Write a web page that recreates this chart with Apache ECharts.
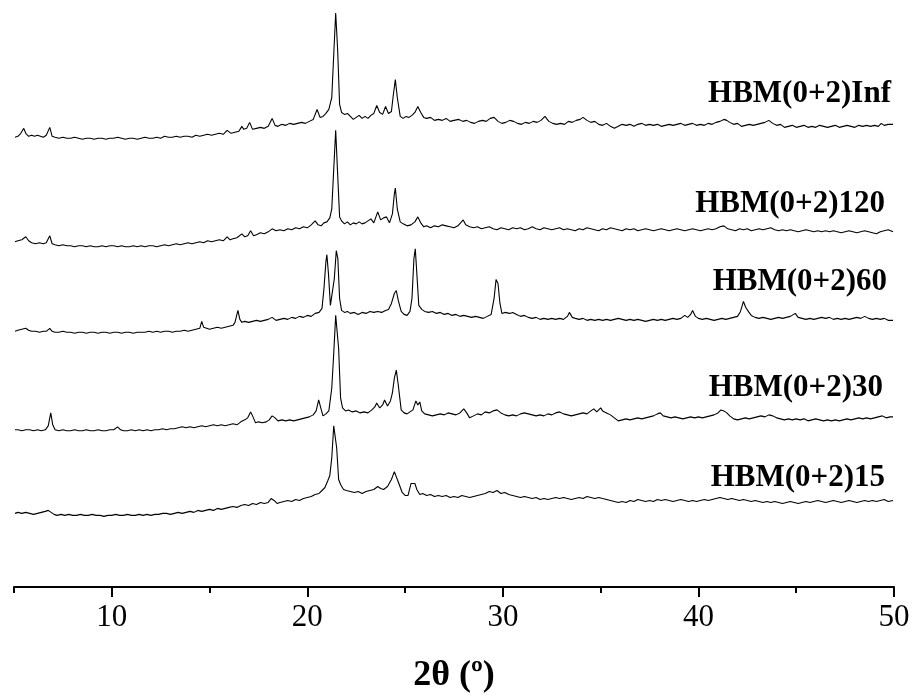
<!DOCTYPE html>
<html>
<head>
<meta charset="utf-8">
<script src="https://cdn.jsdelivr.net/npm/echarts@6/dist/echarts.min.js"></script>
<style>
html,body{margin:0;padding:0;background:#fff;}
#chart{width:914px;height:699px;}
</style>
</head>
<body>
<div id="chart"></div>
<script>
// ---- data (2θ in degrees, relative intensity above each pattern's baseline) ----
const sampleNames = ['HBM(0+2)Inf', 'HBM(0+2)120', 'HBM(0+2)60', 'HBM(0+2)30', 'HBM(0+2)15'];
const stackOffsets = [450, 340, 255, 155, 70];
const majorTicks = [10, 20, 30, 40, 50];
const minorTicks = [5, 15, 25, 35, 45];
const axisTitle = '2θ (º)';

const traceInf = [[5.05,2],[5.2,3],[5.35,6],[5.5,11],[5.6,6],[5.75,3],[5.9,4],[6.05,3],[6.2,4],[6.35,3],[6.5,2],[6.65,4],[6.83,12],[6.95,3],[7.1,2],[7.3,1],[7.5,2],[7.7,1],[7.9,1],[8.1,2],[8.3,1],[8.5,0],[8.7,1],[8.9,1],[9.1,0],[9.3,1],[9.5,1],[9.7,0],[9.9,1],[10.1,1],[10.3,2],[10.5,1],[10.7,0],[10.9,1],[11.1,1],[11.3,0],[11.5,1],[11.7,2],[11.9,1],[12.1,1],[12.3,2],[12.5,1],[12.7,3],[12.9,2],[13.1,2],[13.3,3],[13.5,2],[13.7,3],[13.9,3],[14.1,2],[14.3,4],[14.5,3],[14.7,4],[14.9,5],[15.1,4],[15.3,5],[15.5,6],[15.7,5],[15.9,9],[16.1,6],[16.3,7],[16.5,8],[16.65,13],[16.75,10],[16.9,11],[17.05,17],[17.2,10],[17.4,11],[17.6,12],[17.8,11],[18.0,13],[18.2,21],[18.35,14],[18.5,13],[18.7,15],[18.9,14],[19.1,16],[19.3,15],[19.5,16],[19.7,17],[19.9,16],[20.1,18],[20.3,20],[20.5,30],[20.65,22],[20.8,23],[20.95,26],[21.1,30],[21.25,42],[21.35,85],[21.45,127],[21.55,90],[21.65,35],[21.75,27],[21.9,25],[22.05,26],[22.2,23],[22.35,20],[22.5,22],[22.65,24],[22.8,21],[22.95,23],[23.1,21],[23.25,24],[23.4,26],[23.55,34],[23.7,27],[23.85,25],[24.0,33],[24.15,26],[24.3,28],[24.4,45],[24.5,60],[24.6,42],[24.75,23],[24.9,21],[25.05,23],[25.2,22],[25.35,24],[25.5,27],[25.65,33],[25.8,27],[25.95,22],[26.1,21],[26.3,22],[26.5,19],[26.7,20],[26.9,19],[27.1,21],[27.3,18],[27.5,19],[27.75,20],[27.95,18],[28.15,19],[28.35,17],[28.55,16],[28.75,18],[28.95,19],[29.15,18],[29.35,21],[29.55,22],[29.75,18],[29.95,16],[30.15,17],[30.35,19],[30.55,18],[30.75,16],[30.95,15],[31.15,17],[31.35,16],[31.55,18],[31.75,17],[31.95,19],[32.15,23],[32.35,18],[32.55,16],[32.75,15],[32.95,16],[33.15,15],[33.35,18],[33.55,17],[33.75,19],[33.95,20],[34.1,22],[34.3,19],[34.5,17],[34.7,18],[34.9,15],[35.1,14],[35.3,16],[35.5,13],[35.7,11],[35.9,13],[36.1,15],[36.3,14],[36.5,15],[36.7,13],[36.9,15],[37.1,16],[37.3,14],[37.5,15],[37.7,14],[37.9,15],[38.1,13],[38.3,14],[38.5,15],[38.7,14],[38.9,15],[39.1,16],[39.3,14],[39.5,15],[39.7,16],[39.9,14],[40.1,15],[40.3,14],[40.5,16],[40.7,15],[40.9,17],[41.1,18],[41.3,20],[41.45,19],[41.6,17],[41.8,15],[42.0,16],[42.2,13],[42.4,14],[42.6,15],[42.8,14],[43.0,15],[43.2,16],[43.4,17],[43.6,19],[43.8,16],[44.0,14],[44.2,15],[44.4,12],[44.6,13],[44.8,14],[45.0,12],[45.2,13],[45.4,14],[45.6,12],[45.8,13],[46.0,12],[46.2,14],[46.4,13],[46.6,12],[46.8,13],[47.0,14],[47.2,12],[47.4,13],[47.6,14],[47.8,13],[48.0,12],[48.2,14],[48.4,13],[48.6,14],[48.8,13],[49.0,14],[49.2,13],[49.35,16],[49.5,14],[49.7,15],[49.95,15]];

const trace120 = [[5.05,7],[5.2,8],[5.4,9],[5.6,12],[5.75,8],[5.9,6],[6.1,5],[6.3,6],[6.5,5],[6.65,6],[6.83,13],[6.95,5],[7.1,4],[7.3,3],[7.5,4],[7.7,3],[7.9,3],[8.1,2],[8.3,3],[8.5,3],[8.7,2],[8.9,3],[9.1,2],[9.3,2],[9.5,3],[9.7,2],[9.9,3],[10.1,3],[10.3,2],[10.5,3],[10.7,2],[10.9,2],[11.1,3],[11.3,2],[11.5,3],[11.7,2],[11.9,3],[12.1,3],[12.3,2],[12.5,3],[12.7,4],[12.9,3],[13.1,4],[13.3,5],[13.5,4],[13.7,5],[13.9,6],[14.1,5],[14.3,6],[14.5,7],[14.7,6],[14.9,8],[15.1,7],[15.3,8],[15.5,9],[15.7,8],[15.9,12],[16.05,9],[16.2,10],[16.4,11],[16.65,15],[16.8,12],[16.95,13],[17.1,18],[17.25,13],[17.4,14],[17.6,16],[17.8,15],[18.0,17],[18.2,20],[18.4,18],[18.6,19],[18.8,18],[19.0,20],[19.2,19],[19.4,21],[19.6,20],[19.8,22],[20.0,21],[20.2,24],[20.4,28],[20.55,24],[20.7,23],[20.85,26],[21.0,27],[21.15,31],[21.25,40],[21.35,80],[21.45,119],[21.55,75],[21.65,32],[21.75,28],[21.9,25],[22.05,27],[22.2,24],[22.35,26],[22.5,25],[22.65,27],[22.8,25],[22.95,26],[23.1,28],[23.25,30],[23.4,26],[23.6,37],[23.75,29],[23.9,31],[24.05,32],[24.2,26],[24.35,35],[24.45,55],[24.5,61],[24.6,40],[24.75,27],[24.9,25],[25.1,23],[25.3,24],[25.5,27],[25.65,32],[25.8,26],[25.95,22],[26.1,23],[26.3,21],[26.5,23],[26.7,22],[26.9,24],[27.1,23],[27.3,22],[27.5,21],[27.7,23],[27.97,29],[28.1,24],[28.3,22],[28.5,21],[28.7,22],[28.9,20],[29.1,21],[29.3,22],[29.5,20],[29.7,19],[29.9,21],[30.1,20],[30.3,19],[30.5,21],[30.7,20],[30.9,21],[31.1,19],[31.3,20],[31.5,22],[31.7,20],[31.9,19],[32.1,21],[32.3,20],[32.5,19],[32.7,20],[32.9,21],[33.1,19],[33.3,20],[33.5,19],[33.7,18],[33.9,20],[34.1,19],[34.3,21],[34.5,20],[34.7,19],[34.9,18],[35.1,20],[35.3,19],[35.5,21],[35.7,20],[35.9,19],[36.1,18],[36.3,20],[36.5,19],[36.7,20],[36.9,18],[37.1,19],[37.3,20],[37.5,19],[37.7,18],[37.9,19],[38.1,20],[38.3,19],[38.5,18],[38.7,19],[38.9,20],[39.1,19],[39.3,18],[39.5,19],[39.7,20],[39.9,19],[40.1,18],[40.3,19],[40.5,20],[40.7,19],[40.9,20],[41.1,22],[41.3,23],[41.5,20],[41.7,19],[41.9,18],[42.1,20],[42.3,19],[42.5,20],[42.7,18],[42.9,19],[43.1,20],[43.3,19],[43.5,20],[43.7,21],[43.9,19],[44.1,18],[44.3,19],[44.5,18],[44.7,19],[44.9,18],[45.1,17],[45.3,18],[45.5,19],[45.7,18],[45.9,17],[46.1,18],[46.3,17],[46.5,18],[46.7,17],[46.9,18],[47.1,17],[47.3,16],[47.5,17],[47.7,18],[47.9,17],[48.1,16],[48.3,17],[48.5,18],[48.7,17],[48.9,16],[49.1,15],[49.3,17],[49.5,18],[49.7,19],[49.95,17]];

const trace60 = [[5.05,2],[5.2,3],[5.4,4],[5.6,5],[5.75,3],[5.9,2],[6.1,2],[6.3,1],[6.5,2],[6.65,2],[6.83,5],[6.95,2],[7.1,1],[7.3,1],[7.5,2],[7.7,1],[7.9,1],[8.1,0],[8.3,1],[8.5,1],[8.7,0],[8.9,1],[9.1,1],[9.3,0],[9.5,1],[9.7,1],[9.9,0],[10.1,1],[10.3,1],[10.5,0],[10.7,1],[10.9,1],[11.1,0],[11.3,1],[11.5,1],[11.7,1],[11.9,2],[12.1,1],[12.3,2],[12.5,1],[12.7,2],[12.9,2],[13.1,1],[13.3,2],[13.5,2],[13.7,3],[13.9,2],[14.1,3],[14.3,4],[14.5,5],[14.6,12],[14.7,6],[14.85,5],[15.0,4],[15.2,5],[15.4,6],[15.6,5],[15.8,6],[16.0,7],[16.2,8],[16.3,11],[16.45,23],[16.55,14],[16.65,11],[16.8,12],[17.0,11],[17.2,12],[17.4,13],[17.6,12],[17.8,13],[18.0,14],[18.2,16],[18.4,13],[18.6,14],[18.8,15],[19.0,14],[19.2,16],[19.4,15],[19.6,17],[19.8,16],[20.0,18],[20.2,17],[20.4,20],[20.6,21],[20.75,25],[20.85,45],[20.95,72],[21.0,79],[21.08,60],[21.18,28],[21.28,30],[21.38,55],[21.48,83],[21.56,75],[21.65,35],[21.75,23],[21.9,21],[22.05,22],[22.2,20],[22.4,21],[22.6,19],[22.8,21],[23.0,20],[23.2,22],[23.4,21],[23.6,22],[23.8,21],[24.0,23],[24.15,24],[24.3,30],[24.45,40],[24.55,43],[24.65,33],[24.8,22],[24.95,19],[25.1,18],[25.25,22],[25.35,35],[25.45,75],[25.52,85],[25.6,60],[25.7,28],[25.85,24],[26.0,22],[26.2,21],[26.4,22],[26.6,20],[26.8,21],[27.0,19],[27.2,20],[27.4,18],[27.6,19],[27.8,17],[28.0,18],[28.2,17],[28.4,16],[28.6,17],[28.8,16],[29.0,15],[29.2,17],[29.4,19],[29.55,35],[29.65,54],[29.75,50],[29.85,30],[29.95,20],[30.1,21],[30.2,23],[30.35,20],[30.5,21],[30.7,19],[30.9,17],[31.1,18],[31.3,16],[31.5,15],[31.7,16],[31.9,14],[32.1,15],[32.3,14],[32.5,15],[32.7,14],[32.9,15],[33.1,14],[33.3,17],[33.4,21],[33.55,16],[33.7,15],[33.9,14],[34.1,15],[34.3,13],[34.5,14],[34.7,13],[34.9,14],[35.1,13],[35.3,14],[35.5,13],[35.7,14],[35.9,15],[36.1,14],[36.3,13],[36.5,14],[36.7,13],[36.9,14],[37.1,13],[37.3,12],[37.5,13],[37.7,14],[37.9,13],[38.1,14],[38.3,13],[38.5,14],[38.7,15],[38.9,14],[39.1,15],[39.3,18],[39.45,16],[39.6,19],[39.7,23],[39.85,17],[40.0,15],[40.2,14],[40.4,15],[40.6,14],[40.8,13],[41.0,14],[41.2,15],[41.4,14],[41.6,15],[41.8,16],[42.0,17],[42.15,22],[42.3,32],[42.42,26],[42.55,22],[42.7,18],[42.9,16],[43.1,15],[43.3,16],[43.5,15],[43.7,14],[43.9,15],[44.1,16],[44.3,15],[44.5,16],[44.7,17],[44.95,20],[45.1,16],[45.3,15],[45.5,14],[45.7,15],[45.9,14],[46.1,15],[46.3,16],[46.5,15],[46.7,16],[46.9,14],[47.1,15],[47.3,14],[47.5,15],[47.7,14],[47.9,15],[48.1,16],[48.3,15],[48.5,17],[48.7,15],[48.9,14],[49.1,15],[49.3,14],[49.5,15],[49.7,13],[49.95,13]];

const trace30 = [[5.05,3],[5.2,3],[5.4,2],[5.6,3],[5.8,3],[6.0,2],[6.2,3],[6.4,2],[6.6,3],[6.75,7],[6.88,20],[6.98,8],[7.1,3],[7.3,2],[7.5,3],[7.7,2],[7.9,2],[8.1,3],[8.3,2],[8.5,2],[8.7,3],[8.9,2],[9.1,2],[9.3,3],[9.5,2],[9.7,2],[9.9,3],[10.1,3],[10.3,6],[10.45,3],[10.6,2],[10.8,2],[11.0,3],[11.2,2],[11.4,3],[11.6,2],[11.8,3],[12.0,2],[12.2,3],[12.4,3],[12.6,4],[12.8,3],[13.0,4],[13.2,4],[13.4,5],[13.6,6],[13.8,5],[14.0,6],[14.2,5],[14.4,6],[14.6,7],[14.8,6],[15.0,7],[15.2,8],[15.4,7],[15.6,8],[15.8,7],[16.0,8],[16.2,9],[16.4,8],[16.6,11],[16.8,13],[16.95,15],[17.1,21],[17.2,17],[17.35,10],[17.5,11],[17.7,10],[17.9,11],[18.05,13],[18.2,17],[18.35,15],[18.5,12],[18.7,13],[18.9,12],[19.1,13],[19.3,12],[19.5,13],[19.7,14],[19.9,15],[20.1,16],[20.3,18],[20.45,22],[20.58,33],[20.7,24],[20.8,17],[20.95,19],[21.1,22],[21.25,45],[21.35,80],[21.45,118],[21.52,120],[21.6,85],[21.7,35],[21.8,25],[21.95,22],[22.1,23],[22.3,21],[22.5,22],[22.7,20],[22.9,21],[23.1,20],[23.3,23],[23.45,26],[23.55,30],[23.7,25],[23.85,28],[23.95,33],[24.1,27],[24.25,32],[24.35,40],[24.45,55],[24.55,63],[24.65,48],[24.8,23],[24.95,20],[25.1,19],[25.25,21],[25.4,23],[25.55,32],[25.65,28],[25.75,31],[25.85,22],[26.0,19],[26.2,18],[26.4,17],[26.6,18],[26.8,19],[27.0,18],[27.2,20],[27.4,19],[27.6,18],[27.8,20],[28.0,24],[28.15,20],[28.3,15],[28.5,17],[28.7,19],[28.9,18],[29.1,21],[29.3,20],[29.5,22],[29.7,23],[29.9,20],[30.1,18],[30.3,17],[30.5,18],[30.7,17],[30.9,19],[31.1,20],[31.3,19],[31.5,18],[31.7,17],[31.9,18],[32.1,17],[32.3,19],[32.5,18],[32.7,20],[32.9,21],[33.1,19],[33.3,18],[33.5,17],[33.7,18],[33.9,19],[34.1,20],[34.3,19],[34.5,22],[34.65,24],[34.8,21],[35.0,25],[35.1,22],[35.3,20],[35.5,18],[35.7,15],[35.9,12],[36.1,13],[36.3,14],[36.5,13],[36.7,14],[36.9,15],[37.1,14],[37.3,15],[37.5,16],[37.7,17],[37.9,19],[38.05,20],[38.2,17],[38.4,16],[38.6,15],[38.8,16],[39.0,15],[39.2,14],[39.4,15],[39.6,16],[39.8,15],[40.0,16],[40.2,15],[40.4,16],[40.6,17],[40.8,18],[41.0,20],[41.15,23],[41.3,22],[41.45,20],[41.6,17],[41.8,14],[42.0,13],[42.2,14],[42.4,15],[42.6,14],[42.8,15],[43.0,16],[43.2,17],[43.4,16],[43.6,18],[43.8,17],[44.0,15],[44.2,14],[44.4,13],[44.6,14],[44.8,13],[45.0,14],[45.2,13],[45.4,14],[45.6,12],[45.8,13],[46.0,14],[46.2,13],[46.4,12],[46.6,13],[46.8,12],[47.0,13],[47.2,12],[47.4,13],[47.6,14],[47.8,13],[48.0,14],[48.2,15],[48.4,14],[48.6,15],[48.8,14],[49.0,15],[49.2,16],[49.4,17],[49.6,15],[49.8,16],[49.95,16]];

const trace15 = [[5.05,4],[5.2,5],[5.4,4],[5.6,5],[5.8,4],[6.0,3],[6.2,4],[6.4,5],[6.6,6],[6.75,7],[6.9,5],[7.05,3],[7.2,2],[7.4,3],[7.6,2],[7.8,3],[8.0,2],[8.2,2],[8.4,3],[8.6,2],[8.8,2],[9.0,3],[9.2,2],[9.4,2],[9.6,1],[9.8,2],[10.0,2],[10.2,3],[10.4,2],[10.6,2],[10.8,3],[11.0,2],[11.2,2],[11.4,3],[11.6,2],[11.8,3],[12.0,2],[12.2,3],[12.4,3],[12.6,4],[12.8,4],[13.0,3],[13.2,4],[13.4,5],[13.6,4],[13.8,5],[14.0,6],[14.2,5],[14.4,7],[14.6,6],[14.8,7],[15.0,8],[15.2,7],[15.4,9],[15.6,8],[15.8,9],[16.0,10],[16.2,11],[16.4,10],[16.6,12],[16.8,13],[17.0,12],[17.2,14],[17.4,13],[17.6,15],[17.8,14],[18.0,15],[18.15,19],[18.3,17],[18.45,14],[18.6,15],[18.8,16],[19.0,17],[19.2,16],[19.4,18],[19.6,17],[19.8,19],[20.0,20],[20.2,21],[20.4,23],[20.6,24],[20.75,27],[20.9,30],[21.05,37],[21.15,42],[21.25,60],[21.35,92],[21.42,93],[21.5,70],[21.6,38],[21.7,33],[21.85,28],[22.0,27],[22.2,26],[22.4,25],[22.6,26],[22.8,24],[23.0,26],[23.2,27],[23.4,28],[23.6,31],[23.75,29],[23.9,28],[24.1,31],[24.3,38],[24.45,46],[24.55,45],[24.7,33],[24.85,25],[25.0,22],[25.15,22],[25.3,34],[25.4,32],[25.5,34],[25.6,28],[25.75,23],[25.9,24],[26.1,22],[26.3,23],[26.5,21],[26.7,22],[26.9,21],[27.1,22],[27.3,20],[27.5,21],[27.7,20],[27.9,22],[28.1,21],[28.3,20],[28.5,21],[28.7,22],[28.9,23],[29.1,24],[29.3,26],[29.5,25],[29.7,27],[29.9,24],[30.1,25],[30.3,23],[30.5,22],[30.7,21],[30.9,20],[31.1,21],[31.3,20],[31.5,19],[31.7,20],[31.9,18],[32.1,19],[32.3,18],[32.5,19],[32.7,20],[32.9,19],[33.1,20],[33.3,19],[33.5,18],[33.7,19],[33.9,20],[34.1,19],[34.3,21],[34.5,20],[34.7,19],[34.9,20],[35.1,19],[35.3,18],[35.5,17],[35.7,16],[35.9,15],[36.1,16],[36.3,15],[36.5,17],[36.7,16],[36.9,18],[37.1,17],[37.3,16],[37.5,17],[37.7,16],[37.9,18],[38.1,17],[38.3,18],[38.5,17],[38.7,16],[38.9,17],[39.1,18],[39.3,17],[39.5,16],[39.7,17],[39.9,16],[40.1,17],[40.3,18],[40.5,17],[40.7,18],[40.9,19],[41.1,20],[41.3,19],[41.5,18],[41.7,19],[41.9,18],[42.1,17],[42.3,18],[42.5,17],[42.7,16],[42.9,17],[43.1,16],[43.3,15],[43.5,16],[43.7,15],[43.9,16],[44.1,15],[44.3,14],[44.5,15],[44.7,16],[44.9,15],[45.1,14],[45.3,15],[45.5,16],[45.7,15],[45.9,16],[46.1,17],[46.3,16],[46.5,15],[46.7,16],[46.9,17],[47.1,16],[47.3,15],[47.5,16],[47.7,17],[47.9,16],[48.1,15],[48.3,16],[48.5,17],[48.7,16],[48.9,17],[49.1,16],[49.3,17],[49.5,18],[49.7,16],[49.95,17]];

const traces = [traceInf, trace120, trace60, trace30, trace15];

// ---- layout / style ----
const labelPos = [[891, 94], [885, 204], [887, 282], [883, 388], [885, 478]];
const serif = '"Liberation Serif", "Times New Roman", serif';

const chart = echarts.init(document.getElementById('chart'), null, {renderer: 'canvas'});

const series = traces.map((t, i) => ({
  type: 'line',
  name: sampleNames[i],
  xAxisIndex: 0,
  yAxisIndex: 0,
  data: t.map(p => [p[0], p[1] + stackOffsets[i]]),
  showSymbol: false,
  symbol: 'none',
  smooth: false,
  lineStyle: {color: '#000', width: 1.1},
  animation: false
}));

const option = {
  backgroundColor: '#fff',
  animation: false,
  grid: {left: 14, right: 20, top: 0, bottom: 109, containLabel: false},
  xAxis: [{
    type: 'value', min: 5, max: 50, interval: 5,
    position: 'bottom',
    axisLine: {show: true, lineStyle: {color: '#000', width: 2}},
    axisTick: {show: true, customValues: majorTicks, length: 10, inside: false, lineStyle: {color: '#000', width: 2}},
    axisLabel: {show: true, customValues: majorTicks, margin: 15, color: '#000', fontFamily: serif, fontSize: 31},
    splitLine: {show: false},
    name: axisTitle, nameLocation: 'middle', nameGap: 71,
    nameTextStyle: {color: '#000', fontFamily: serif, fontSize: 36, fontWeight: 'bold'}
  }, {
    type: 'value', min: 5, max: 50, interval: 5,
    position: 'bottom', gridIndex: 0,
    axisLine: {show: false},
    axisTick: {show: true, customValues: minorTicks, length: 6, lineStyle: {color: '#000', width: 2}},
    axisLabel: {show: false},
    splitLine: {show: false}
  }],
  yAxis: {type: 'value', min: 0, max: 590, show: false, splitLine: {show: false}},
  series: series,
  graphic: sampleNames.map((n, i) => ({
    type: 'text', x: labelPos[i][0], y: labelPos[i][1],
    style: {text: n, fill: '#000', font: 'bold 31px ' + serif, textAlign: 'right', textVerticalAlign: 'middle'}
  }))
};
chart.setOption(option);
</script>
</body>
</html>
